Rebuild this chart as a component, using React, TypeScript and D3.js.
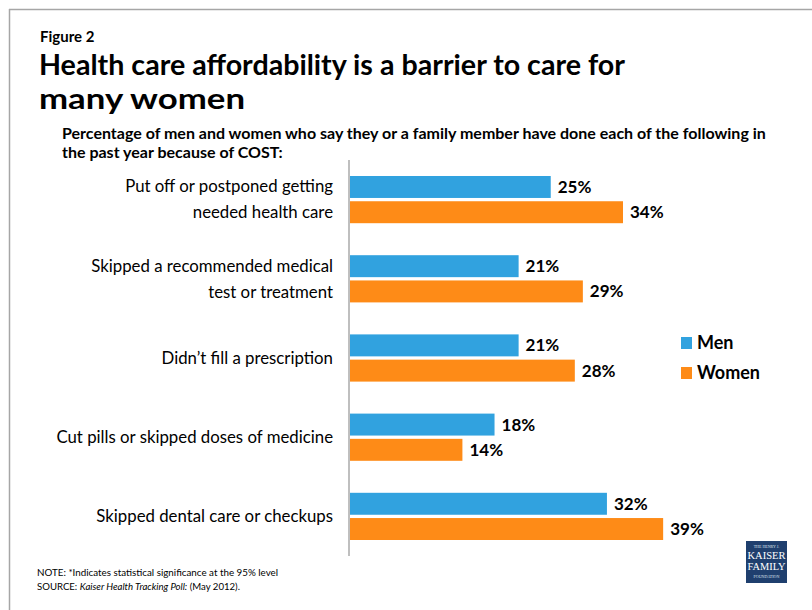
import React from "react";
import * as d3 from "d3";

const categories: string[][] = [
  ["Put off or postponed getting", "needed health care"],
  ["Skipped a recommended medical", "test or treatment"],
  ["Didn\u2019t fill a prescription"],
  ["Cut pills or skipped doses of medicine"],
  ["Skipped dental care or checkups"],
];
const menValues = [25, 21, 21, 18, 32];
const womenValues = [34, 29, 28, 14, 39];
const seriesNames = ["Men", "Women"];
const seriesColors = ["#31a2df", "#fe8b17"];

const W = 812;
const H = 610;
const FONT = "Lato, 'Open Sans', sans-serif";

export default function App() {
  const x = d3.scaleLinear().domain([0, 34]).range([350, 623]);
  const y = d3
    .scaleBand<number>()
    .domain(d3.range(categories.length))
    .range([160, 556]);
  const inner = d3
    .scaleBand<number>()
    .domain([0, 1])
    .range([16, y.bandwidth() - 16])
    .paddingInner(0.13);

  const series = [menValues, womenValues];

  return (
    <svg
      width={W}
      height={H}
      style={{ position: "absolute", left: 0, top: 0, background: "#fff" }}
      fontFamily={FONT}
    >
      <rect x={0} y={0} width={W} height={H} fill="#fff" />
      {/* frame */}
      <line x1={9} y1={9.5} x2={W} y2={9.5} stroke="#a6a6a6" strokeWidth={1.5} />
      <line x1={9.5} y1={9} x2={9.5} y2={H} stroke="#a6a6a6" strokeWidth={1.5} />

      <text x={40} y={42} fontSize={15} fontWeight={700} fill="#000">
        Figure 2
      </text>
      <text x={39} y={75} fontSize={28.5} fontWeight={700} fill="#000" textLength={586} lengthAdjust="spacingAndGlyphs">
        Health care affordability is a barrier to care for
      </text>
      <text x={39} y={109} fontSize={28.5} fontWeight={700} fill="#000" textLength={206} lengthAdjust="spacingAndGlyphs">
        many women
      </text>
      <text x={62} y={139} fontSize={16} fontWeight={700} fill="#000">
        Percentage of men and women who say they or a family member have done each of the following in
      </text>
      <text x={62} y={158} fontSize={16} fontWeight={700} fill="#000">
        the past year because of COST:
      </text>

      {/* bars */}
      {categories.map((lines, i) => {
        const y0 = y(i)!;
        const cy = y0 + y.bandwidth() / 2;
        return (
          <g key={i}>
            {series.map((vals, s) => (
              <g key={s}>
                <rect
                  x={x(0)}
                  y={y0 + inner(s)!}
                  width={x(vals[i]) - x(0)}
                  height={inner.bandwidth()}
                  fill={seriesColors[s]}
                />
                <text
                  x={x(vals[i]) + 7}
                  y={y0 + inner(s)! + inner.bandwidth() / 2}
                  dy="0.35em"
                  fontSize={17}
                  fontWeight={700}
                  fill="#000"
                >
                  {vals[i]}%
                </text>
              </g>
            ))}
            {lines.map((ln, k) => (
              <text
                key={k}
                x={333}
                y={cy + (k - (lines.length - 1) / 2) * 26}
                dy="0.35em"
                textAnchor="end"
                fontSize={16.8}
                fill="#000"
              >
                {ln}
              </text>
            ))}
          </g>
        );
      })}

      {/* axis line */}
      <line x1={349} y1={160} x2={349} y2={556} stroke="#bfbfbf" strokeWidth={2} />

      {/* legend */}
      {seriesNames.map((n, s) => (
        <g key={n} transform={`translate(681, ${337 + s * 30})`}>
          <rect x={0} y={0} width={11} height={12} fill={seriesColors[s]} />
          <text x={16} y={6} dy="0.35em" fontSize={18} fontWeight={700} fill="#000">
            {n}
          </text>
        </g>
      ))}

      {/* notes */}
      <text x={37} y={576} fontSize={9.8} fill="#000">
        NOTE: *Indicates statistical significance at the 95% level
      </text>
      <text x={37} y={590} fontSize={9.6} fill="#000">
        SOURCE:{"  "}
        <tspan fontStyle="italic">Kaiser Health Tracking Poll:</tspan> (May 2012).
      </text>

      {/* logo */}
      <g transform="translate(746, 541)">
        <rect x={0} y={0} width={41} height={42} fill="#1f3f6e" />
        <text x={20.5} y={7} textAnchor="middle" fontSize={4} fill="#dfe6f0" fontFamily="'Liberation Serif', serif">
          THE HENRY J.
        </text>
        <text x={20.5} y={18} textAnchor="middle" fontSize={10} fill="#fff" fontFamily="'Liberation Serif', serif" textLength={38} lengthAdjust="spacingAndGlyphs">
          KAISER
        </text>
        <text x={20.5} y={29} textAnchor="middle" fontSize={10} fill="#fff" fontFamily="'Liberation Serif', serif" textLength={38} lengthAdjust="spacingAndGlyphs">
          FAMILY
        </text>
        <text x={20.5} y={37} textAnchor="middle" fontSize={4} fill="#dfe6f0" fontFamily="'Liberation Serif', serif">
          FOUNDATION
        </text>
      </g>
    </svg>
  );
}
